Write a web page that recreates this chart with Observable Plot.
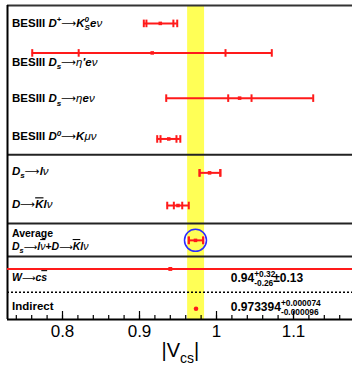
<!DOCTYPE html>
<html><head><meta charset="utf-8">
<script src="https://cdn.jsdelivr.net/npm/d3@7"></script>
<script src="https://cdn.jsdelivr.net/npm/@observablehq/plot@0.6"></script>
<style>
body{margin:0;background:#fff;}
svg{font-family:"Liberation Sans",Arial,sans-serif;}
</style>
</head><body><div id="chart"></div>
<script>
// ---------- data ----------
const measurements = ["D+→KSeν", "Ds→η'eν", "Ds→ηeν", "D0→Kμν", "Ds→lν", "D→Klν", "Average"];
const rowY    = [5.7, 15.1, 29.5, 42.5, 53.3, 63.7, 74.8];
const central = [0.927, 0.9165, 1.030, 0.938, 0.991, 0.950, 0.9727];
const innerLo = [0.909, 0.821, 1.0152, 0.9273, 0.978, 0.9446, 0.964];
const innerHi = [0.944, 1.0117, 1.0455, 0.948, 1.005, 0.9555, 0.9827];
const outerLo = [0.9056, 0.7607, 0.9347, 0.923, 0.978, 0.936, 0.964];
const outerHi = [0.949, 1.0718, 1.1256, 0.953, 1.005, 0.964, 0.9827];

const wRow = {y: 83.9, central: 0.94, lo: 0.65, hi: 1.285};
const indirectRow = {y: 96.6, central: 0.973394};
const bandLo = 0.9625, bandHi = 0.9845;
const separatorsY = [47.5, 69.4, 79.9];
const dottedY = [91.3];

const xDomain = [0.72857, 1.17662];
const majorTicks = [0.8, 0.9, 1.0, 1.1];
const tickLabels = ["0.8", "0.9", "1", "1.1"];
const minorTicks = [0.74,0.76,0.78,0.8,0.82,0.84,0.86,0.88,0.9,0.92,0.94,0.96,0.98,1.0,1.02,1.04,1.06,1.08,1.1,1.12,1.14,1.16];

// label rich-text parts: [text, flags]
const rowLabels = [
  {y: 5.67, size: 11.5, parts: [["BESIII ","b"],["D","b i"],["+","b sup"],["⟶","arr"],["K","b i"],["0","b i sup"],["S","b i sub back"],["e","b i"],["ν","i"]]},
  {y: 18.05, size: 11.5, parts: [["BESIII ","b"],["D","b i"],["s","b i sub"],["⟶","arr"],["η","i"],["'","b i"],["e","b i"],["ν","i"]]},
  {y: 29.6, size: 11.5, parts: [["BESIII ","b"],["D","b i"],["s","b i sub"],["⟶","arr"],["η","i"],["e","b i"],["ν","i"]]},
  {y: 41.8, size: 11.5, parts: [["BESIII ","b"],["D","b i"],["0","b i sup"],["⟶","arr"],["K","b i"],["μ","i"],["ν","i"]]},
  {y: 52.7, size: 11.5, parts: [["D","b i"],["s","b i sub"],["⟶","arr"],["l","b i"],["ν","i"]]},
  {y: 63.4, size: 11.5, parts: [["D","b i"],["⟶","arr"],["K","b i ov"],["l","b i"],["ν","i"]]},
  {y: 72.7, size: 10.5, parts: [["Average","b"]]},
  {y: 76.8, size: 10.5, parts: [["D","b i"],["s","b i sub"],["⟶","arr"],["l","b i"],["ν","i ov"],["+","b"],["D","b i"],["⟶","arr"],["K","b i ov"],["l","b i"],["ν","i"]]},
  {y: 86.7, size: 10.5, parts: [["W","b i"],["⟶","arr"],["c","b i"],["s","b i ov"]]},
  {y: 95.8, size: 11.5, parts: [["Indirect","b"]]}
];
const resultX = 1.0186;
const resultTexts = [
  {y: 86.8, size: 12, parts: [["0.94","b"],["+0.32","b sup"],["-0.26","b sub back"],["±0.13","b"]]},
  {y: 96.1, size: 12, parts: [["0.973394","b"],["+0.000074","b sup"],["-0.000096","b sub back"]]}
];
const xTitle = {x: 0.9285, parts: [["|V",""],["cs","sub"],["|",""]], size: 20};

// ---------- build ----------
const rows = measurements.map((m, i) => ({m, y: rowY[i], c: central[i], il: innerLo[i], ih: innerHi[i], ol: outerLo[i], oh: outerHi[i]}));
const capSymbol = {draw(ctx, size) { const h = Math.sqrt(size / Math.PI); ctx.moveTo(0, -h); ctx.lineTo(0, h); }};
const caps = rows.flatMap(r => [{x: r.il, y: r.y}, {x: r.ih, y: r.y}, {x: r.ol, y: r.y}, {x: r.oh, y: r.y}]);
const RED = "#ff1a1a";

const plot = Plot.plot({
  width: 352, height: 367,
  marginLeft: 7, marginRight: 0, marginTop: 5, marginBottom: 48,
  x: {domain: xDomain},
  y: {domain: [0, 100], reverse: true, axis: null},
  style: {fontFamily: "Liberation Sans, Arial, sans-serif", background: "#fff"},
  marks: [
    Plot.rectX([{x1: bandLo, x2: bandHi}], {x1: "x1", x2: "x2", y1: 0, y2: 100, fill: "#ffff44", fillOpacity: 0.9}),
    Plot.ruleY(separatorsY, {stroke: "#222", strokeWidth: 2}),
    Plot.ruleY(dottedY, {stroke: "#000", strokeWidth: 1.5, strokeDasharray: "2,2"}),
    Plot.ruleY([0], {stroke: "#333", strokeWidth: 2}),
    Plot.ruleY([100], {stroke: "#000", strokeWidth: 2}),
    Plot.ruleX([xDomain[0]], {stroke: "#000", strokeWidth: 2}),
    Plot.axisX({ticks: minorTicks, tickSize: -4, tickFormat: () => "", label: null, strokeWidth: 1.2}),
    Plot.axisX({ticks: majorTicks, tickSize: -8, tickPadding: 13, tickFormat: d => tickLabels[majorTicks.indexOf(d)], label: null, fontSize: 17, strokeWidth: 1.2}),
    // W line
    Plot.ruleY([wRow], {y: "y", x1: "lo", x2: "hi", stroke: RED, strokeWidth: 2, clip: true}),
    Plot.dot([wRow], {x: "central", y: "y", r: 2.2, fill: RED, symbol: "square"}),
    // error bars
    Plot.ruleY(rows, {y: "y", x1: "ol", x2: "oh", stroke: RED, strokeWidth: 2}),
    Plot.dot(caps, {x: "x", y: "y", r: 3.8, symbol: capSymbol, stroke: RED, strokeWidth: 2, fill: "none"}),
    Plot.dot(rows, {x: "c", y: "y", r: 2, symbol: "square", fill: RED}),
    Plot.dot([rows[6]], {x: "c", y: "y", r: 11, stroke: "#2b2bff", strokeWidth: 1.5, fill: "none"}),
    Plot.dot([indirectRow], {x: "central", y: "y", r: 2.3, fill: RED}),
    // texts
    Plot.text(rowLabels, {y: "y", frameAnchor: "left", dx: 4.5, text: d => d.parts.map(p => p[0]).join(""), textAnchor: "start", fill: "#000"}),
    Plot.text(resultTexts, {x: resultX, y: "y", text: d => d.parts.map(p => p[0]).join(""), textAnchor: "start", fill: "#000"}),
    Plot.text([xTitle], {x: "x", frameAnchor: "bottom", dy: 37, text: d => d.parts.map(p => p[0]).join(""), textAnchor: "start", fill: "#000"})
  ]
});
document.getElementById("chart").appendChild(plot);

function rich(el, parts, size) {
  const t = d3.select(el);
  t.text(null);
  t.attr("font-size", size);
  let cur = 0, lastW = 0;
  for (const [s, fl] of parts) {
    const f = fl.split(" ");
    const sup = f.includes("sup"), sub = f.includes("sub"), arr = f.includes("arr");
    const fs = (sup || sub) ? size * 0.7 : arr ? size * 0.9 : size;
    const target = sup ? -0.42 * size : sub ? 0.3 * size : 0;
    const ts = t.append("tspan").text(s)
      .attr("font-size", fs)
      .attr("font-weight", f.includes("b") ? "bold" : "normal")
      .attr("font-style", f.includes("i") ? "italic" : "normal");
    if (arr) ts.attr("font-family", "DejaVu Sans");
    if (target !== cur) ts.attr("dy", target - cur);
    cur = target;
    if (f.includes("back")) ts.attr("dx", -lastW);
    if (f.includes("ov")) ts.style("text-decoration", "overline");
    if (sup) lastW = ts.node().getComputedTextLength();
  }
}
const svg = d3.select(plot);
const textGroups = svg.selectAll('g[aria-label="text"]').nodes();
const specs = [rowLabels, resultTexts, [xTitle]];
textGroups.forEach((g, gi) => {
  d3.select(g).selectAll("text").each(function(_, i) { const s = specs[gi][i]; rich(this, s.parts, s.size); });
});
svg.selectAll('g[aria-label="x-axis tick label"] text').attr("font-size", 17);
</script>
</body></html>
